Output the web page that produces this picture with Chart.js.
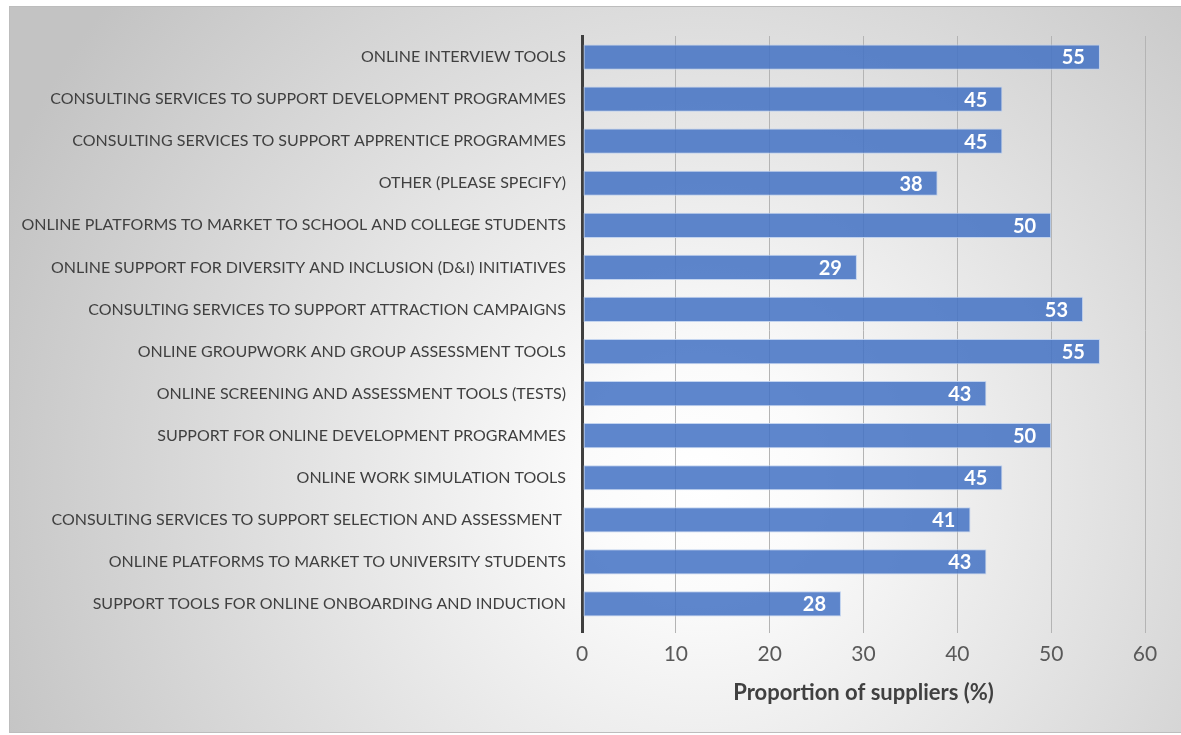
<!DOCTYPE html>
<html>
<head>
<meta charset="utf-8">
<script src="https://cdn.jsdelivr.net/npm/chart.js@4.4.1/dist/chart.umd.min.js"></script>
<style>
  html, body { margin: 0; padding: 0; background: #ffffff; }
  canvas { display: block; }
</style>
</head>
<body>
<canvas id="supplierChart" width="1181" height="735"></canvas>
<script>
// categories, top to bottom as in the picture
const categories = [
  "ONLINE INTERVIEW TOOLS",
  "CONSULTING SERVICES TO SUPPORT DEVELOPMENT PROGRAMMES",
  "CONSULTING SERVICES TO SUPPORT APPRENTICE PROGRAMMES",
  "OTHER (PLEASE SPECIFY)",
  "ONLINE PLATFORMS TO MARKET TO SCHOOL AND COLLEGE STUDENTS",
  "ONLINE SUPPORT FOR DIVERSITY AND INCLUSION (D&I) INITIATIVES",
  "CONSULTING SERVICES TO SUPPORT ATTRACTION CAMPAIGNS",
  "ONLINE GROUPWORK AND GROUP ASSESSMENT TOOLS",
  "ONLINE SCREENING AND ASSESSMENT TOOLS (TESTS)",
  "SUPPORT FOR ONLINE DEVELOPMENT PROGRAMMES",
  "ONLINE WORK SIMULATION TOOLS",
  "CONSULTING SERVICES TO SUPPORT SELECTION AND ASSESSMENT ",
  "ONLINE PLATFORMS TO MARKET TO UNIVERSITY STUDENTS",
  "SUPPORT TOOLS FOR ONLINE ONBOARDING AND INDUCTION"
];

// proportion of suppliers (%)
const proportions = [55.2, 44.8, 44.8, 37.9, 50.0, 29.3, 53.4, 55.2, 43.1, 50.0, 44.8, 41.4, 43.1, 27.6];

const xTicks = [0, 10, 20, 30, 40, 50, 60];
const axisTitle = "Proportion of suppliers (%)";

const FONT = "Lato, 'Open Sans', sans-serif";

// soft radial background + thin frame, like the office chart
const panelBackground = {
  id: "panelBackground",
  beforeDraw(chart) {
    const ctx = chart.ctx;
    ctx.save();
    ctx.fillStyle = "#ffffff";
    ctx.fillRect(0, 0, chart.width, chart.height);
    const grad = ctx.createRadialGradient(700, 480, 0, 700, 480, 760);
    grad.addColorStop(0, "#ffffff");
    grad.addColorStop(0.15, "#fbfbfb");
    grad.addColorStop(1, "#c3c3c3");
    ctx.fillStyle = grad;
    ctx.fillRect(9, 6, chart.width - 9, 727);
    ctx.strokeStyle = "#bdbdbd";
    ctx.lineWidth = 1;
    ctx.strokeRect(9.5, 6.5, chart.width - 9, 726);
    ctx.restore();
  }
};

// white value labels just inside the end of each bar
const barValueLabels = {
  id: "barValueLabels",
  afterDatasetsDraw(chart) {
    const ctx = chart.ctx;
    const meta = chart.getDatasetMeta(0);
    ctx.save();
    ctx.font = "bold 20px " + FONT;
    ctx.fillStyle = "#ffffff";
    ctx.textAlign = "right";
    ctx.textBaseline = "middle";
    meta.data.forEach((bar, i) => {
      ctx.fillText(Math.round(proportions[i]), bar.x - 15, bar.y + 1);
    });
    ctx.restore();
  }
};

new Chart(document.getElementById("supplierChart"), {
  type: "bar",
  data: {
    labels: categories,
    datasets: [
      {
        data: proportions,
        backgroundColor: "rgba(68, 114, 196, 0.86)",
        borderColor: "rgba(190, 208, 238, 0.9)",
        borderWidth: 1,
        borderSkipped: false,
        categoryPercentage: 0.6,
        barPercentage: 1.0
      }
    ]
  },
  options: {
    indexAxis: "y",
    responsive: false,
    animation: false,
    layout: {
      padding: { top: 36, right: 36, left: 0, bottom: 0 }
    },
    plugins: {
      legend: { display: false },
      tooltip: { enabled: false }
    },
    scales: {
      y: {
        afterFit(scale) {
          scale.width = 582;
        },
        grid: { display: false },
        border: { color: "#3f3f3f", width: 3 },
        ticks: {
          color: "#404040",
          padding: 8,
          font: { family: FONT, size: 16 }
        }
      },
      x: {
        min: 0,
        max: 60,
        afterFit(scale) {
          scale.height = 110;
        },
        afterBuildTicks(scale) {
          scale.ticks = xTicks.map((v) => ({ value: v }));
        },
        border: { display: false },
        grid: {
          color: (c) => (c.tick && c.tick.value === 0 ? "#3f3f3f" : "#b4b4b4"),
          lineWidth: (c) => (c.tick && c.tick.value === 0 ? 3 : 1),
          tickLength: 8
        },
        ticks: {
          color: "#595959",
          padding: 9,
          font: { family: FONT, size: 21 }
        },
        title: {
          display: true,
          text: axisTitle,
          color: "#404040",
          font: { family: FONT, size: 22, weight: "bold" },
          padding: { top: 0, bottom: 29 }
        }
      }
    }
  },
  plugins: [panelBackground, barValueLabels]
});
</script>
</body>
</html>
